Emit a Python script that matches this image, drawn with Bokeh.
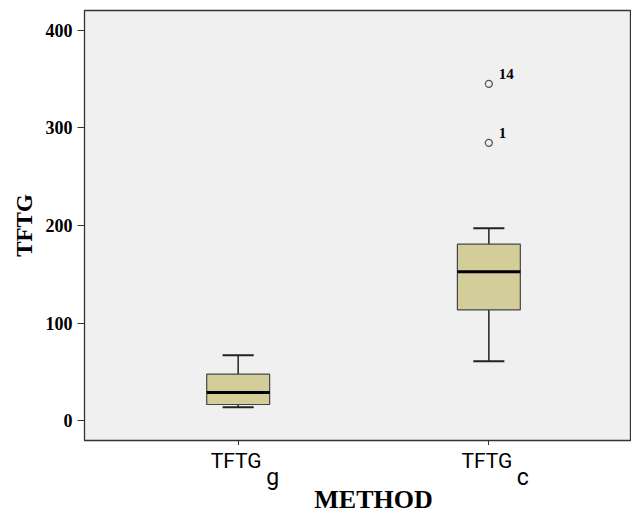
from bokeh.plotting import figure
from bokeh.models import ColumnDataSource, FixedTicker, Range1d
from bokeh.layouts import column
from bokeh.embed import file_html
from bokeh.resources import INLINE
from bokeh.core.properties import value

# ---- data ----
categories = ["TFTGg", "TFTGc"]
cat_main = ["TFTG", "TFTG"]
cat_sub = ["g", "c"]
positions = [1, 2]
lower = [13.6, 60.8]
q1 = [16.4, 113.5]
median = [28.7, 152.5]
q3 = [47.5, 180.8]
upper = [67.0, 197.2]
outlier_pos = [2, 2]
outlier_val = [345.3, 284.8]
outlier_lab = ["14", "1"]
y_ticks = [0, 100, 200, 300, 400]
x_title = "METHOD"
y_title = "TFTG"

BOX_W = 0.251
CAP_W = 0.124
W = 631
X_RANGE = (0.387, 2.569)
AX = "#333333"

src = ColumnDataSource(dict(x=positions, lower=lower, q1=q1, med=median, q3=q3, upper=upper,
                            x0=[p - BOX_W / 2 for p in positions], x1=[p + BOX_W / 2 for p in positions],
                            c0=[p - CAP_W / 2 for p in positions], c1=[p + CAP_W / 2 for p in positions]))
osrc = ColumnDataSource(dict(x=outlier_pos, y=outlier_val, t=outlier_lab))

xr = Range1d(*X_RANGE)
p = figure(width=W, height=445, x_range=xr, y_range=(-20.5, 420.5), title=None,
           output_backend="svg", toolbar_location=None,
           min_border_left=84, min_border_right=0, min_border_top=10, min_border_bottom=5)
p.background_fill_color = "#F0F0F0"
p.border_fill_color = "white"
p.outline_line_color = AX
p.outline_line_width = 1.3
p.grid.visible = False

# whiskers
p.segment(x0="x", y0="q3", x1="x", y1="upper", source=src, line_color="#222222", line_width=1.5)
p.segment(x0="x", y0="q1", x1="x", y1="lower", source=src, line_color="#222222", line_width=1.5)
# boxes
p.vbar(x="x", width=BOX_W, bottom="q1", top="q3", source=src,
       fill_color="#D3CE99", line_color="#444444", line_width=1.2)
# median
p.segment(x0="x0", y0="med", x1="x1", y1="med", source=src, line_color="black", line_width=3)
# caps
p.segment(x0="c0", y0="upper", x1="c1", y1="upper", source=src, line_color="#222222", line_width=2)
p.segment(x0="c0", y0="lower", x1="c1", y1="lower", source=src, line_color="#222222", line_width=2)
# outliers
p.scatter(x="x", y="y", source=osrc, size=7, fill_color=None, line_color="#555555", line_width=1.3)
p.text(x="x", y="y", text="t", source=osrc, x_offset=10, y_offset=-5,
       text_font=value("Liberation Serif"), text_font_style="bold", text_font_size="15px",
       text_baseline="bottom", text_align="left", text_color="black")

# axes
p.yaxis.ticker = FixedTicker(ticks=y_ticks)
p.yaxis.minor_tick_line_color = None
p.yaxis.major_tick_out = 7
p.yaxis.major_tick_in = 0
p.yaxis.major_label_text_font = "Liberation Serif"
p.yaxis.major_label_text_font_style = "bold"
p.yaxis.major_label_text_font_size = "18px"
p.yaxis.major_label_text_color = "black"
p.yaxis.major_label_standoff = 5
p.yaxis.axis_label = y_title
p.yaxis.axis_label_text_font = "Liberation Serif"
p.yaxis.axis_label_text_font_style = "bold"
p.yaxis.axis_label_text_font_size = "23px"
p.yaxis.axis_label_text_color = "black"
p.yaxis.axis_label_standoff = 6
p.yaxis.axis_line_color = AX
p.yaxis.major_tick_line_color = AX

p.xaxis.ticker = FixedTicker(ticks=positions)
p.xaxis.major_label_overrides = {pos: "" for pos in positions}
p.xaxis.major_label_text_font_size = "0px"
p.xaxis.major_label_standoff = 0
p.xaxis.minor_tick_line_color = None
p.xaxis.major_tick_out = 5
p.xaxis.major_tick_in = 0
p.xaxis.axis_line_color = AX
p.xaxis.major_tick_line_color = AX

# ---- lower strip: category labels with subscripts and the x title ----
H2 = 69
q = figure(width=W, height=H2, x_range=xr, y_range=Range1d(H2, 0), title=None,
           output_backend="svg", toolbar_location=None,
           x_axis_location=None, y_axis_location=None,
           min_border_left=84, min_border_right=0, min_border_top=0, min_border_bottom=0)
q.outline_line_color = None
q.background_fill_color = "white"
q.border_fill_color = "white"
q.grid.visible = False

lsrc = ColumnDataSource(dict(x=positions, main=cat_main, sub=cat_sub))
q.text(x="x", y=27.6, text="main", source=lsrc, x_offset=-2,
       text_font=value("Roboto"), text_font_size="21px", text_align="center",
       text_baseline="bottom", text_color="black")
q.text(x="x", y=45.6, text="sub", source=lsrc, x_offset=28,
       text_font=value("Roboto"), text_font_size="23px", text_align="left",
       text_baseline="bottom", text_color="black")
q.text(x=[sum(positions) / len(positions)], y=[68.5], text=[x_title], x_offset=10,
       text_font=value("Liberation Serif"), text_font_style="bold", text_font_size="26px",
       text_align="center", text_baseline="bottom", text_color="black")

layout = column(p, q, spacing=0)
open("out.html", "w").write(file_html(layout, INLINE))
